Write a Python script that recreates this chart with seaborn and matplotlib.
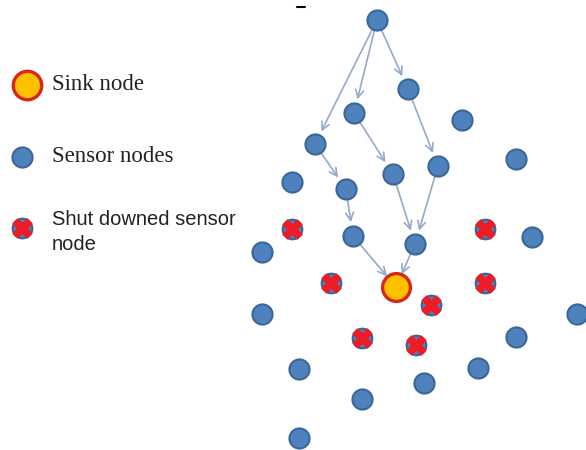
import pandas as pd
import seaborn as sns
import matplotlib.pyplot as plt

# posiciones de los nodos (en pixeles)
sensor_x = [377, 408, 354, 462, 315, 516, 292, 346, 393, 438, 353, 415,
            532, 262, 262, 577, 516, 299, 478, 424, 362, 299]
sensor_y = [20, 89, 113, 120, 144, 159, 182, 189, 174, 166, 236, 244,
            237, 252, 314, 314, 337, 369, 368, 383, 399, 438]

shut_x = [292, 485, 331, 485, 431, 362, 416]
shut_y = [229, 229, 283, 283, 305, 338, 345]

sink_x = [396]
sink_y = [287]

# rutas: (origen, destino) como indices de sensores; -1 = sink
edges_from = [0, 0, 0, 2, 1, 4, 7, 8, 9, 10, 11]
edges_to = [4, 2, 1, 8, 9, 7, 10, 11, 11, -1, -1]

legend_labels = ["Sink node", "Sensor nodes", "Shut downed sensor\nnode"]

sns.set_theme(style="white")
fig = plt.figure(figsize=(5.86, 4.5), dpi=100)
ax = fig.add_axes([0, 0, 1, 1])
ax.set_xlim(0, 586)
ax.set_ylim(450, 0)
ax.axis("off")

blue = "#4F81BD"
blue_edge = "#3A6799"
red = "#EE1C25"

# flechas
for a, b in zip(edges_from, edges_to):
    x0, y0 = sensor_x[a], sensor_y[a]
    if b == -1:
        x1, y1 = sink_x[0], sink_y[0]
    else:
        x1, y1 = sensor_x[b], sensor_y[b]
    ax.annotate("", xy=(x1, y1), xytext=(x0, y0),
                arrowprops=dict(arrowstyle="->", color="#93AACB", lw=1.2,
                                shrinkA=8, shrinkB=10, mutation_scale=14))

df_s = pd.DataFrame({"x": sensor_x, "y": sensor_y})
sns.scatterplot(data=df_s, x="x", y="y", s=210, color=blue,
                edgecolor=blue_edge, linewidth=1.5, ax=ax, zorder=3)

df_off = pd.DataFrame({"x": shut_x, "y": shut_y})
sns.scatterplot(data=df_off, x="x", y="y", s=200, color=blue,
                edgecolor=blue_edge, linewidth=1.5, ax=ax, zorder=3)
sns.scatterplot(data=df_off, x="x", y="y", s=190, marker="X", color=red,
                edgecolor=red, linewidth=0.8, ax=ax, zorder=4)

df_k = pd.DataFrame({"x": sink_x, "y": sink_y})
sns.scatterplot(data=df_k, x="x", y="y", s=400, color="#FFC000",
                edgecolor="#D9261C", linewidth=2.4, ax=ax, zorder=5)

# leyenda dibujada a mano
ax.scatter([27], [85], s=420, color="#FFC000", edgecolors="#D9261C", linewidths=2.4, zorder=5)
ax.scatter([22], [157], s=210, color=blue, edgecolors=blue_edge, linewidths=1.5, zorder=3)
ax.scatter([22], [228], s=200, color=blue, edgecolors=blue_edge, linewidths=1.5, zorder=3)
ax.scatter([22], [228], s=190, marker="X", color=red, edgecolors=red, linewidths=0.8, zorder=4)

ax.text(52, 85, legend_labels[0], fontsize=16.5, family="Liberation Serif",
        va="center", ha="left", color="#222222")
ax.text(52, 157, legend_labels[1], fontsize=16.5, family="Liberation Serif",
        va="center", ha="left", color="#222222")
ax.text(52, 232, legend_labels[2], fontsize=14.5, family="Liberation Sans",
        va="center", ha="left", color="#222222", linespacing=1.35)

# pequena marca arriba
ax.plot([297, 305], [7, 7], color="black", lw=1.5)

plt.savefig("out.png", dpi=100)
